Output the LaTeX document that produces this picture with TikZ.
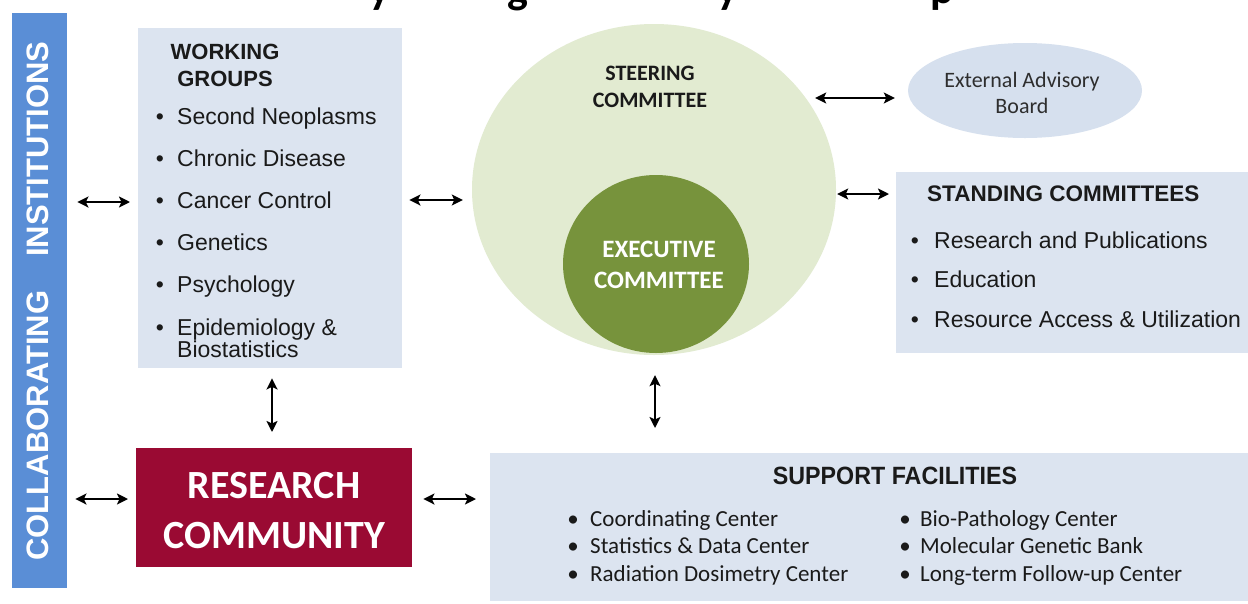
\documentclass[tikz,border=0pt]{standalone}
\usepackage{fontspec}
\setmainfont{Liberation Sans}
\newfontfamily\calfont{Carlito}
\usetikzlibrary{arrows.meta,shapes.geometric,calc}
\definecolor{barblue}{HTML}{5A8ED6}
\definecolor{boxblue}{HTML}{DCE4F0}
\definecolor{eabblue}{HTML}{D6E0EE}
\definecolor{rcred}{HTML}{9A0A33}
\definecolor{outergreen}{HTML}{E2EBD1}
\definecolor{innergreen}{HTML}{77933C}
\definecolor{txt}{HTML}{1A1A1A}
\definecolor{eabtxt}{HTML}{2E2E2E}
\newcommand\fs[1]{\fontsize{#1}{#1}\selectfont}
\begin{document}
\begin{tikzpicture}[x=1pt,y=-1pt,
  arr/.style={{Stealth[length=11pt,width=11pt,inset=2.5pt]}-{Stealth[length=11pt,width=11pt,inset=2.5pt]}, line width=2pt},
  panel/.style={fill=boxblue, draw=none, inner sep=0pt, anchor=north west},
  lbl/.style={anchor=base, inner sep=0pt, text=txt},
  item/.style={anchor=base west, inner sep=0pt, text=txt, font=\fs{23}},
  bul/.style={anchor=base, inner sep=0pt, text=txt, font=\fs{23}},
  sitem/.style={anchor=base west, inner sep=0pt, text=txt, font=\calfont\fs{23}},
  sbul/.style={anchor=base, inner sep=0pt, text=txt, font=\calfont\fs{23}},
  ttl/.style={anchor=base, inner sep=0pt, text=black, font=\calfont\bfseries\fs{44}},
]
\useasboundingbox (0,0) rectangle (1248,603);
\fill[white] (0,0) rectangle (1248,603);

% clipped title (only descenders visible)
\begin{scope}
\clip (0,0) rectangle (1248,603);
\node[ttl] (t1) at (380,3) {y};
\node[ttl] (t2) at (518,3) {g};
\node[ttl] (t3) at (728,3) {y};
\node[ttl] (t4) at (942,3) {p};
\end{scope}

% collaborating institutions bar
\node[fill=barblue, minimum width=55pt, minimum height=575pt, inner sep=0pt, anchor=north west] (bar) at (12,13) {};
\node[rotate=90, text=white, font=\bfseries\fs{31}, inner sep=0pt] (bartxt) at (38,301) {COLLABORATING\hspace{34pt}INSTITUTIONS};

% working groups
\node[panel, minimum width=264pt, minimum height=340pt] (wg) at (138,28) {};
\node[lbl, font=\bfseries\fs{22}] (wgt1) at (225,59) {WORKING};
\node[lbl, font=\bfseries\fs{22}] (wgt2) at (225,86) {GROUPS};
\node[bul] (wb1) at (160,124) {•}; \node[item] (wi1) at (177,124) {Second Neoplasms};
\node[bul] (wb2) at (160,166) {•}; \node[item] (wi2) at (177,166) {Chronic Disease};
\node[bul] (wb3) at (160,208) {•}; \node[item] (wi3) at (177,208) {Cancer Control};
\node[bul] (wb4) at (160,250) {•}; \node[item] (wi4) at (177,250) {Genetics};
\node[bul] (wb5) at (160,292) {•}; \node[item] (wi5) at (177,292) {Psychology};
\node[bul] (wb6) at (160,335) {•}; \node[item] (wi6) at (177,335) {Epidemiology \&};
\node[item] (wi7) at (177,357) {Biostatistics};

% research community
\node[fill=rcred, minimum width=276pt, minimum height=119pt, inner sep=0pt, anchor=north west] (rc) at (136,448) {};
\node[lbl, text=white, font=\calfont\bfseries\fs{40}] (rct1) at (274,498) {RESEARCH};
\node[lbl, text=white, font=\calfont\bfseries\fs{40}] (rct2) at (274,548) {COMMUNITY};

% steering / executive committee
\node[ellipse, fill=outergreen, minimum width=364pt, minimum height=331pt, inner sep=0pt] (sc) at (654,189.5) {};
\node[ellipse, fill=innergreen, minimum width=186pt, minimum height=178pt, inner sep=0pt] (ec) at (656,264) {};
\node[lbl, font=\calfont\bfseries\fs{22}] (sct1) at (650,80) {STEERING};
\node[lbl, font=\calfont\bfseries\fs{22}] (sct2) at (650,107) {COMMITTEE};
\node[lbl, text=white, font=\calfont\bfseries\fs{25}] (ect1) at (659,257) {EXECUTIVE};
\node[lbl, text=white, font=\calfont\bfseries\fs{25}] (ect2) at (659,288) {COMMITTEE};

% external advisory board
\node[ellipse, fill=eabblue, minimum width=234pt, minimum height=95pt, inner sep=0pt] (eab) at (1025,90.5) {};
\node[lbl, text=eabtxt, font=\calfont\fs{22}] (eabt1) at (1022,87) {External Advisory};
\node[lbl, text=eabtxt, font=\calfont\fs{22}] (eabt2) at (1022,113) {Board};

% standing committees
\node[panel, minimum width=352pt, minimum height=181pt] (st) at (896,172) {};
\node[item, font=\bfseries\fs{22.5}] (stt) at (927,201) {STANDING COMMITTEES};
\node[bul] (sb1) at (915,248) {•}; \node[item] (si1) at (934,248) {Research and Publications};
\node[bul] (sb2) at (915,287) {•}; \node[item] (si2) at (934,287) {Education};
\node[bul] (sb3) at (915,327) {•}; \node[item] (si3) at (934,327) {Resource Access \& Utilization};

% support facilities
\node[panel, minimum width=758pt, minimum height=148pt] (sf) at (490,453) {};
\node[lbl, font=\bfseries\fs{25}] (sft) at (895,484) {\scalebox{0.93}[1]{SUPPORT FACILITIES}};
\node[sbul] (fb1) at (573,526) {•}; \node[sitem] (fi1) at (590,526) {Coordinating Center};
\node[sbul] (fb2) at (573,553) {•}; \node[sitem] (fi2) at (590,553) {Statistics \& Data Center};
\node[sbul] (fb3) at (573,581) {•}; \node[sitem] (fi3) at (590,581) {Radiation Dosimetry Center};
\node[sbul] (fb4) at (905,526) {•}; \node[sitem] (fi4) at (920,526) {Bio-Pathology Center};
\node[sbul] (fb5) at (905,553) {•}; \node[sitem] (fi5) at (920,553) {Molecular Genetic Bank};
\node[sbul] (fb6) at (905,581) {•}; \node[sitem] (fi6) at (920,581) {Long-term Follow-up Center};

% connectors
\draw[arr, shorten <=10pt, shorten >=8pt] (bar.east |- 0,202) -- (wg.west |- 0,202);
\draw[arr, shorten <=8pt, shorten >=8pt] (bar.east |- 0,499) -- (rc.west |- 0,499);
\draw[arr, shorten <=7pt, shorten >=9pt] (wg.east |- 0,200) -- (sc.west |- 0,200);
\draw[arr, shorten <=10pt, shorten >=16pt] (272,0 |- wg.south) -- (272,0 |- rc.north);
\draw[arr, shorten <=11pt, shorten >=14pt] (rc.east |- 0,499) -- (sf.west |- 0,499);
\draw[arr, shorten <=20pt, shorten >=25pt] (655,0 |- sc.south) -- (655,0 |- sf.north);
\draw[arr, shorten <=-21pt, shorten >=13pt] (sc.east |- 0,98) -- (eab.west |- 0,98);
\draw[arr, shorten <=1pt, shorten >=7pt] (sc.east |- 0,194) -- (st.west |- 0,194);
\end{tikzpicture}
\end{document}
